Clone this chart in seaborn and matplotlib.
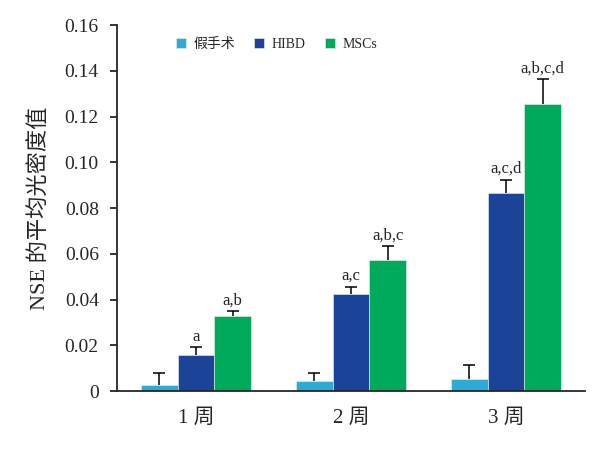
import matplotlib
matplotlib.use("Agg")
import matplotlib.pyplot as plt
import seaborn as sns
import pandas as pd

# data
weeks = ["1 周", "2 周", "3 周"]
groups = ["假手术", "HIBD", "MSCs"]
sham_mean = [0.0028, 0.0045, 0.0053]
sham_err = [0.0052, 0.0035, 0.0061]
hibd_mean = [0.0158, 0.0424, 0.0866]
hibd_err = [0.0033, 0.0032, 0.0058]
mscs_mean = [0.0328, 0.0572, 0.1257]
mscs_err = [0.0022, 0.0062, 0.0108]
hibd_marks = ["a", "a,c", "a,c,d"]
mscs_marks = ["a,b", "a,b,c", "a,b,c,d"]

colors = ["#2eaad7", "#1b4499", "#00aa5b"]

means = [sham_mean, hibd_mean, mscs_mean]
errs = [sham_err, hibd_err, mscs_err]
marks = [["", "", ""], hibd_marks, mscs_marks]

rows = []
for g, m in zip(groups, means):
    for w, v in zip(weeks, m):
        rows.append({"week": w, "group": g, "value": v})
df = pd.DataFrame(rows)

sns.set_style("ticks")
plt.rcParams["font.family"] = ["Liberation Serif", "Noto Sans CJK SC"]

fig = plt.figure(figsize=(6.12, 4.5), dpi=100)
ax = fig.add_axes([0.191, 0.131, 0.765, 0.813])

sns.barplot(data=df, x="week", y="value", hue="group", order=weeks,
            hue_order=groups, palette=colors, width=0.71, errorbar=None,
            saturation=1, linewidth=0.4, edgecolor="#e8f4ee", ax=ax)

for cont, m, e, mk in zip(ax.containers, means, errs, marks):
    xs = [p.get_x() + p.get_width() / 2 for p in cont.patches]
    eb = ax.errorbar(xs, m, yerr=[[0] * len(e), e], fmt="none", ecolor="black",
                     elinewidth=1.1, capsize=4, capthick=1.1)
    # keep only the upper cap
    eb[1][0].set_visible(False)
    for x, v, d, t in zip(xs, m, e, mk):
        if t:
            ax.text(x, v + d + 0.0012, t, ha="center", va="bottom", fontsize=12)

ax.set_ylim(0, 0.16)
ax.set_xlim(-0.51, 2.51)
ax.set_yticks([0, 0.02, 0.04, 0.06, 0.08, 0.10, 0.12, 0.14, 0.16])
ax.set_yticklabels(["0", "0.02", "0.04", "0.06", "0.08", "0.10", "0.12", "0.14", "0.16"],
                   fontsize=14)
ax.tick_params(axis="x", length=0, labelsize=15, pad=13)
ax.tick_params(axis="y", direction="out", length=5, width=1.3, pad=8)
ax.set_xlabel("")
ax.set_ylabel("NSE 的平均光密度值", fontsize=16, labelpad=10)
for s in ["left", "bottom"]:
    ax.spines[s].set_linewidth(1.3)
sns.despine(ax=ax)

ax.legend(loc="center", bbox_to_anchor=(0.341, 0.948), ncol=3, frameon=False,
          handlelength=0.7, handleheight=0.7, columnspacing=1.4,
          handletextpad=0.55, fontsize=10)

fig.savefig("out.png", dpi=100)
